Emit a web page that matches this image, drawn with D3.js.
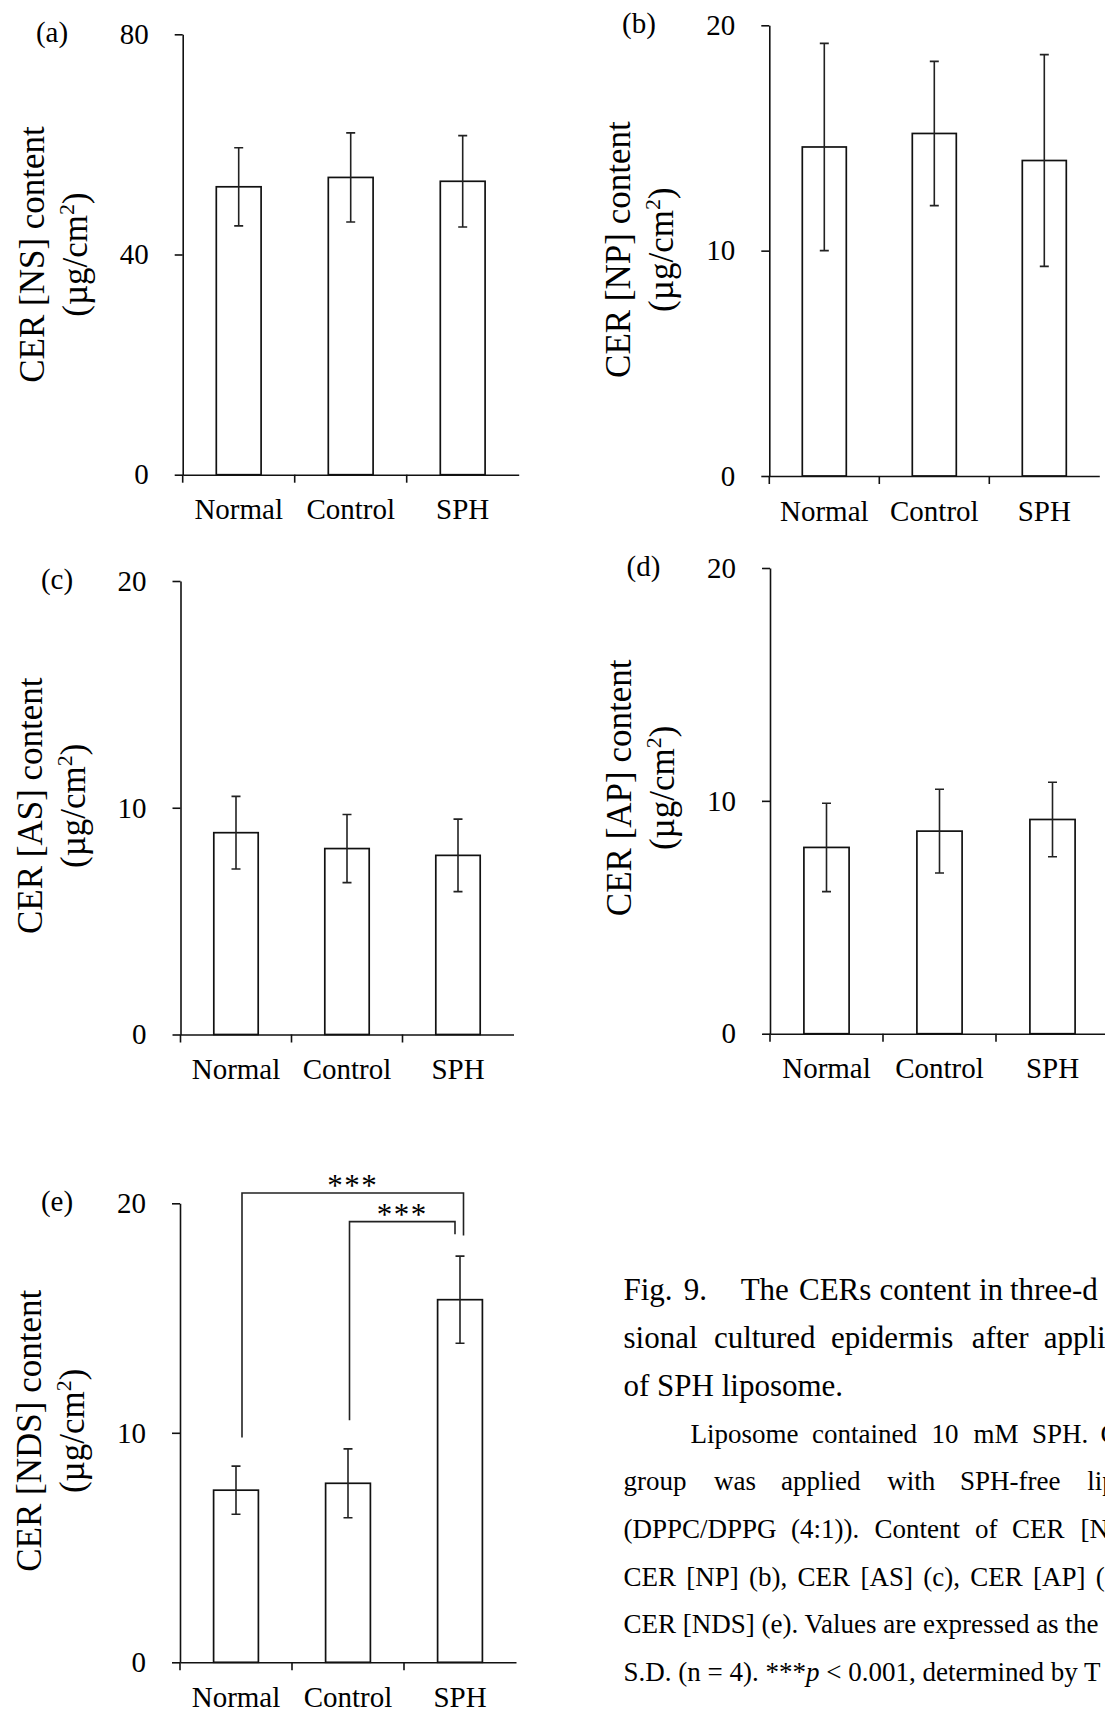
<!DOCTYPE html>
<html>
<head>
<meta charset="utf-8">
<script src="https://cdn.jsdelivr.net/npm/d3@7"></script>
<style>
  html, body { margin: 0; padding: 0; background: #fff; }
  svg { display: block; }
</style>
</head>
<body>
<svg id="fig" width="1105" height="1712"></svg>
<script>
// ---- data ----------------------------------------------------------
const categories = ["Normal", "Control", "SPH"];
const panelLetters = ["(a)", "(b)", "(c)", "(d)", "(e)"];
const ceramideClasses = ["NS", "NP", "AS", "AP", "NDS"];

// mean and S.D. of CER content (µg/cm²), n = 4
const meanNS  = [52.3, 54.0, 53.3];
const sdNS    = [7.1, 8.1, 8.3];
const meanNP  = [14.6, 15.2, 14.0];
const sdNP    = [4.6, 3.2, 4.7];
const meanAS  = [8.9, 8.2, 7.9];
const sdAS    = [1.6, 1.5, 1.6];
const meanAP  = [8.0, 8.7, 9.2];
const sdAP    = [1.9, 1.8, 1.6];
const meanNDS = [7.5, 7.8, 15.8];
const sdNDS   = [1.05, 1.5, 1.9];

const ticksNS    = [0, 40, 80];
const ticksOther = [0, 10, 20];

// Tukey comparisons shown on CER [NDS]
const sigFrom    = ["Normal", "Control"];
const sigTo      = ["SPH", "SPH"];
const sigLabel   = ["***", "***"];
const sigTop     = [20.45, 19.2];
const sigFromEnd = [9.8, 10.55];
const sigToEnd   = [18.6, 18.65];

// caption
const captionHead = [
  ["Fig.", "9.", "The", "CERs", "content", "in", "three-d"],
  ["sional", "cultured", "epidermis", "after", "appli"],
  ["of SPH liposome."]
];
const captionBody = [
  ["Liposome", "contained", "10", "mM", "SPH.", "C"],
  ["group", "was", "applied", "with", "SPH-free", "lip"],
  ["(DPPC/DPPG", "(4:1)).", "Content", "of", "CER", "[N"],
  ["CER", "[NP]", "(b),", "CER", "[AS]", "(c),", "CER", "[AP]", "("],
  ["CER [NDS] (e). Values are expressed as the"]
];
const captionLast = ["S.D. (n = 4). ***", "p", " < 0.001, determined by T"];

// ---- layout --------------------------------------------------------
const panelMeans = [meanNS, meanNP, meanAS, meanAP, meanNDS];
const panelSds   = [sdNS, sdNP, sdAS, sdAP, sdNDS];
const panelTicks = [ticksNS, ticksOther, ticksOther, ticksOther, ticksOther];

const layout = [
  { ax: 182.7, top: 34.3,   zero: 474.7,  step: 112, letterX: 52,    titleDy: 0 },
  { ax: 769.3, top: 25.3,   zero: 476,    step: 110, letterX: 639,   titleDy: -1 },
  { ax: 180.5, top: 581,    zero: 1034.5, step: 111, letterX: 57,    titleDy: -2 },
  { ax: 770,   top: 568,    zero: 1033.7, step: 113, letterX: 643.5, titleDy: -13 },
  { ax: 180,   top: 1203.3, zero: 1662.3, step: 112, letterX: 57,    titleDy: -2 }
];

const FONT = "'Liberation Serif', 'Times New Roman', serif";
const INK = "#111";
const svg = d3.select("#fig");
svg.append("rect").attr("width", 1105).attr("height", 1712).attr("fill", "#fff");

function drawPanel(idx) {
  const lay = layout[idx];
  const means = panelMeans[idx], sds = panelSds[idx], ticks = panelTicks[idx];
  const g = svg.append("g").attr("class", "panel-" + ceramideClasses[idx]);

  const y = d3.scaleLinear().domain([0, d3.max(ticks)]).range([lay.zero, lay.top]);
  const xCat = d3.scaleBand().domain(categories)
    .range([lay.ax, lay.ax + lay.step * categories.length]);
  const xBar = d3.scaleBand().domain(categories).range(xCat.range())
    .paddingInner(0.6).paddingOuter(0.3);

  // bars
  g.selectAll("rect.bar").data(categories).join("rect")
    .attr("class", "bar")
    .attr("x", c => xBar(c))
    .attr("width", xBar.bandwidth())
    .attr("y", (c, i) => y(means[i]))
    .attr("height", (c, i) => y(0) - y(means[i]))
    .attr("fill", "#fff")
    .attr("stroke", INK)
    .attr("stroke-width", 1.7);

  // error bars (mean ± S.D.)
  const cap = 4.5;
  const eb = g.selectAll("g.err").data(categories).join("g").attr("class", "err")
    .attr("stroke", "#222").attr("stroke-width", 1.6).attr("fill", "none");
  eb.append("path").attr("d", (c, i) => {
    const cx = xBar(c) + xBar.bandwidth() / 2;
    const hi = y(means[i] + sds[i]), lo = y(means[i] - sds[i]);
    return `M${cx},${hi}V${lo}M${cx - cap},${hi}H${cx + cap}M${cx - cap},${lo}H${cx + cap}`;
  });

  // y axis
  const yAxis = d3.axisLeft(y).tickValues(ticks).tickSize(8).tickSizeOuter(0)
    .tickPadding(26).tickFormat(d3.format("d"));
  const ya = g.append("g").attr("transform", `translate(${lay.ax},0)`).call(yAxis);
  ya.selectAll("path, line").attr("stroke", INK).attr("stroke-width", 1.6);
  ya.selectAll("text").attr("font-family", FONT).attr("font-size", 29).attr("fill", "#000");

  // x axis: category labels under each group, ticks at group boundaries
  const xAxis = d3.axisBottom(xCat).tickSize(0).tickSizeOuter(0).tickPadding(24);
  const xa = g.append("g").attr("transform", `translate(0,${lay.zero})`).call(xAxis);
  xa.select("path.domain").attr("stroke", INK).attr("stroke-width", 1.6);
  xa.selectAll("text").attr("font-family", FONT).attr("font-size", 29).attr("fill", "#000");
  g.selectAll("line.xtick").data(categories).join("line")
    .attr("class", "xtick")
    .attr("x1", c => xCat(c)).attr("x2", c => xCat(c))
    .attr("y1", lay.zero).attr("y2", lay.zero + 8)
    .attr("stroke", INK).attr("stroke-width", 1.6);

  // panel letter
  g.append("text").attr("x", lay.letterX).attr("y", lay.top + 8)
    .attr("text-anchor", "middle").attr("font-family", FONT).attr("font-size", 29)
    .text(panelLetters[idx]);

  // y title (two lines, rotated)
  const mid = (lay.top + lay.zero) / 2 + lay.titleDy;
  g.append("text")
    .attr("transform", `translate(${lay.ax - 139},${mid}) rotate(-90)`)
    .attr("text-anchor", "middle").attr("font-family", FONT).attr("font-size", 35)
    .text(`CER [${ceramideClasses[idx]}] content`);
  const t2 = g.append("text")
    .attr("transform", `translate(${lay.ax - 96},${mid}) rotate(-90)`)
    .attr("text-anchor", "middle").attr("font-family", FONT).attr("font-size", 35);
  t2.append("tspan").text("(\u00b5g/cm");
  t2.append("tspan").attr("font-size", 22).attr("dy", -13).text("2");
  t2.append("tspan").attr("dy", 13).text(")");

  return { g, xCat, y, lay };
}

const panels = layout.map((_, i) => drawPanel(i));

// significance brackets on CER [NDS]
{
  const { g, xCat, y, lay } = panels[4];
  const legOffsetFrom = [6, 1.5], legOffsetTo = [3.5, -5];
  sigFrom.forEach((from, i) => {
    const x1 = xCat(from) + lay.step / 2 + legOffsetFrom[i];
    const x2 = xCat(sigTo[i]) + lay.step / 2 + legOffsetTo[i];
    g.append("path")
      .attr("d", `M${x1},${y(sigFromEnd[i])}V${y(sigTop[i])}H${x2}V${y(sigToEnd[i])}`)
      .attr("fill", "none").attr("stroke", "#222").attr("stroke-width", 1.6);
    g.append("text")
      .attr("x", (x1 + x2) / 2).attr("y", y(sigTop[i]) + 3)
      .attr("text-anchor", "middle").attr("font-family", FONT).attr("font-size", 31)
      .attr("letter-spacing", 1.5)
      .text(sigLabel[i]);
  });
}

// ---- caption (justified lines, clipped by the page edge) -----------
const headX = [
  [623.5, 683.8, 740.7, 799, 879.6, 979, 1010],
  [623.5, 714, 831, 971.7, 1043.7],
  [623.5]
];
const headY = [1299.6, 1347.8, 1395.7];
const bodyX = [
  [690.5, 812, 931.5, 973.4, 1032, 1100.6],
  [623.5, 714, 781, 887.3, 960, 1087.2],
  [623.5, 791, 874.6, 975, 1011.9, 1080.5],
  [623.5, 686.3, 749.1, 797.6, 860.4, 923.2, 970.2, 1033, 1095.8],
  [623.5]
];
const bodyY = [1442.5, 1490.4, 1538, 1585.5, 1633.4];
const cap = svg.append("g").attr("font-family", FONT).attr("fill", "#000");

captionHead.forEach((words, li) => {
  cap.selectAll(null).data(words).join("text")
    .attr("x", (w, wi) => headX[li][wi]).attr("y", headY[li])
    .attr("font-size", 31).text(w => w);
});
captionBody.forEach((words, li) => {
  cap.selectAll(null).data(words).join("text")
    .attr("x", (w, wi) => bodyX[li][wi]).attr("y", bodyY[li])
    .attr("font-size", 27).text(w => w);
});
const last = cap.append("text").attr("x", 623.5).attr("y", 1681.2)
  .attr("font-size", 27).attr("xml:space", "preserve");
last.append("tspan").text(captionLast[0]);
last.append("tspan").attr("font-style", "italic").text(captionLast[1]);
last.append("tspan").text(captionLast[2]);
</script>
</body>
</html>
